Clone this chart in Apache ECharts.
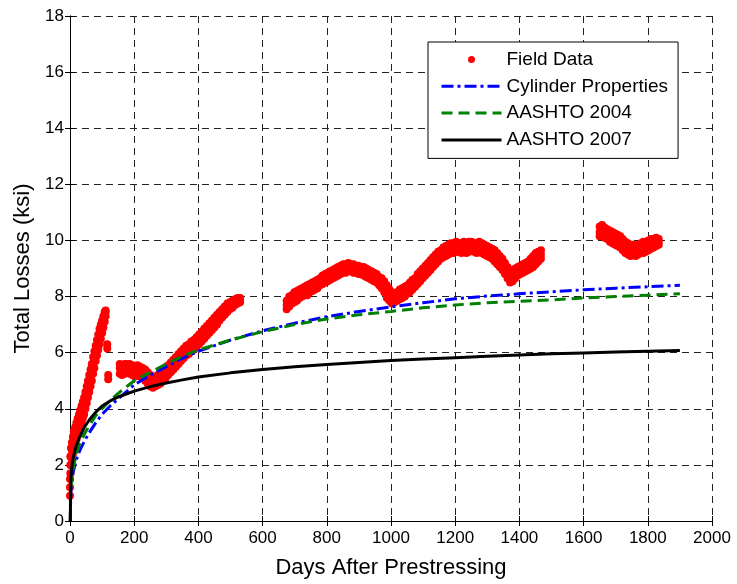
<!DOCTYPE html>
<html>
<head>
<meta charset="utf-8">
<script src="https://cdn.jsdelivr.net/npm/echarts@6/dist/echarts.min.js"></script>
<style>
  html, body { margin: 0; padding: 0; background: #fff; }
  #chart { width: 737px; height: 584px; }
</style>
</head>
<body>
<div id="chart"></div>
<script>
// Measured prestress losses. Each row: [days after prestressing, readings (ksi)...]
const fieldEarly = [
  [0,0.9,1.2,1.5],[1,1.7,2.0,2.3],[3,2.0,2.3,2.6],[6,2.2,2.5,2.8],[9,2.4,2.7,3.0],[12,2.6,2.9,3.2],
  [16,2.75,3.05,3.35],[20,2.9,3.2,3.5],[24,3.05,3.35,3.65],[28,3.2,3.5,3.8],[32,3.35,3.65,3.95],
  [36,3.5,3.8,4.1],[40,3.65,3.95,4.25],[44,3.8,4.1,4.4],[48,4.0,4.3,4.6],[52,4.2,4.5,4.8],
  [56,4.4,4.7,5.0],[60,4.6,4.9,5.2],[64,4.8,5.1,5.4],[68,5.0,5.3,5.6],[72,5.25,5.55,5.85],
  [76,5.45,5.75,6.05],[80,5.7,6.0,6.25],[84,5.9,6.2,6.45],[88,6.1,6.4,6.65],[92,6.3,6.6,6.85],
  [96,6.5,6.8,7.0],[100,6.7,6.95,7.15],[104,6.9,7.1,7.3],[108,7.1,7.3,7.45],[111,7.3,7.45,7.5],
  [116,6.15,6.3],[119,5.05,5.2]
];
const fieldFirstYear = [
  [155,5.25,5.45,5.6],[162,5.2,5.4,5.55],[170,5.25,5.45,5.6],[178,5.3,5.45,5.6],[186,5.25,5.45,5.6],
  [194,5.2,5.4,5.55],[202,5.15,5.35,5.5],[210,5.2,5.4,5.55],[218,5.15,5.35,5.5],[226,5.1,5.3,5.45],
  [234,5.0,5.2,5.4],[242,4.9,5.1,5.3],[250,4.8,5.0,5.2],[258,4.75,4.95,5.15],[266,4.8,5.0,5.15],
  [274,4.85,5.05,5.2],[282,4.9,5.1,5.3],[290,5.0,5.2,5.35],[298,5.1,5.3,5.45],[306,5.2,5.4,5.55],
  [314,5.3,5.5,5.65],[322,5.4,5.6,5.75],[330,5.5,5.7,5.85],[338,5.6,5.8,5.95],[346,5.7,5.9,6.05],
  [354,5.8,6.0,6.15],[362,5.9,6.05,6.25],[370,5.95,6.15,6.3],[378,6.05,6.2,6.4],[386,6.1,6.3,6.45],
  [394,6.2,6.4,6.55],[402,6.3,6.5,6.65],[410,6.4,6.6,6.75],[418,6.5,6.7,6.85],[426,6.6,6.8,6.95],
  [434,6.7,6.9,7.05],[442,6.8,7.0,7.15],[450,6.9,7.1,7.25],[458,7.0,7.2,7.35],[466,7.15,7.3,7.45],
  [474,7.25,7.4,7.55],[482,7.35,7.5,7.65],[490,7.45,7.6,7.75],[498,7.55,7.7,7.8],[506,7.6,7.75,7.85],
  [514,7.7,7.8,7.9],[522,7.75,7.85,7.95],[530,7.8,7.9,7.95]
];
const fieldMiddle = [
  [675,7.55,7.7,7.85],[683,7.65,7.8,8.0],[691,7.75,7.9,8.05],[699,7.8,7.95,8.15],[707,7.85,8.05,8.2],
  [715,7.95,8.1,8.25],[723,8.0,8.15,8.3],[731,8.05,8.2,8.35],[739,8.05,8.25,8.4],[747,8.15,8.3,8.45],
  [755,8.2,8.35,8.5],[763,8.25,8.4,8.55],[771,8.3,8.45,8.6],[779,8.4,8.55,8.65],[787,8.45,8.6,8.75],
  [795,8.5,8.65,8.8],[803,8.55,8.7,8.85],[811,8.6,8.75,8.9],[819,8.65,8.8,8.95],[827,8.7,8.85,9.0],
  [835,8.75,8.9,9.05],[843,8.8,8.95,9.1],[851,8.85,9.0,9.15],[859,8.85,9.0,9.15],[867,8.9,9.05,9.2],
  [875,8.9,9.05,9.15],[883,8.85,9.0,9.15],[891,8.85,8.95,9.1],[899,8.8,8.95,9.1],[907,8.8,8.9,9.05],
  [915,8.75,8.9,9.05],[923,8.7,8.85,9.0],[931,8.65,8.8,8.95],[939,8.6,8.75,8.9],[947,8.55,8.7,8.85],
  [955,8.5,8.65,8.8],[963,8.4,8.55,8.7],[971,8.3,8.45,8.65],[979,8.15,8.35,8.55],[987,7.95,8.15,8.4],
  [995,7.85,8.05,8.25],[1003,7.75,7.95,8.15],[1011,7.8,7.95,8.1],[1019,7.85,8.0,8.15],[1027,7.9,8.05,8.25],
  [1035,7.95,8.1,8.3],[1043,8.0,8.15,8.35],[1051,8.1,8.25,8.4],[1059,8.15,8.3,8.5],[1067,8.25,8.4,8.6],
  [1075,8.35,8.5,8.65],[1083,8.45,8.6,8.8],[1091,8.55,8.7,8.9],[1099,8.65,8.8,9.0],[1107,8.75,8.9,9.1],
  [1115,8.85,9.0,9.2],[1123,8.95,9.1,9.3],[1131,9.05,9.2,9.4],[1139,9.15,9.3,9.5],[1147,9.25,9.4,9.6],
  [1155,9.35,9.5,9.65],[1163,9.4,9.55,9.75],[1171,9.45,9.6,9.8],[1179,9.5,9.65,9.85],[1187,9.55,9.7,9.9],
  [1195,9.55,9.7,9.9],[1203,9.6,9.75,9.95],[1211,9.6,9.75,9.9],[1219,9.55,9.7,9.9],[1227,9.6,9.75,9.95],
  [1235,9.55,9.7,9.9],[1243,9.6,9.75,9.95],[1251,9.65,9.8,9.95],[1259,9.6,9.75,9.9],[1267,9.55,9.7,9.9],
  [1275,9.6,9.75,9.95],[1283,9.55,9.7,9.9],[1291,9.5,9.65,9.85],[1299,9.45,9.6,9.8],[1307,9.4,9.55,9.75],
  [1315,9.35,9.5,9.7],[1323,9.25,9.45,9.65],[1331,9.15,9.35,9.55],[1339,9.05,9.25,9.45],[1347,8.95,9.15,9.35],
  [1355,8.8,9.0,9.2],[1363,8.65,8.85,9.05],[1371,8.5,8.7,8.95],[1379,8.55,8.7,8.9],[1387,8.65,8.8,9.0],
  [1395,8.75,8.9,9.05],[1403,8.8,8.95,9.1],[1411,8.85,9.0,9.15],[1419,8.9,9.05,9.2],[1427,8.95,9.1,9.25],
  [1435,9.0,9.15,9.35],[1443,9.05,9.25,9.45],[1451,9.15,9.35,9.55],[1459,9.25,9.4,9.6],[1467,9.35,9.5,9.65]
];
const fieldLate = [
  [1650,10.15,10.3,10.5],[1658,10.25,10.4,10.55],[1666,10.1,10.25,10.45],[1674,10.05,10.2,10.4],
  [1682,9.95,10.15,10.35],[1690,9.9,10.1,10.3],[1698,9.85,10.05,10.25],[1706,9.8,10.0,10.2],
  [1714,9.75,9.95,10.15],[1722,9.65,9.85,10.05],[1730,9.55,9.75,9.95],[1738,9.5,9.7,9.9],
  [1746,9.45,9.65,9.85],[1754,9.5,9.65,9.85],[1762,9.45,9.6,9.8],[1770,9.5,9.65,9.85],
  [1778,9.55,9.7,9.9],[1786,9.55,9.75,9.95],[1794,9.6,9.8,9.95],[1802,9.65,9.85,10.0],
  [1810,9.7,9.9,10.05],[1818,9.75,9.9,10.05],[1826,9.8,9.95,10.1],[1834,9.85,9.95,10.05]
];

// Predicted losses: [days, total loss (ksi)]
const cylinderProps = [
  [1,0],[2,0.8],[3,1.1],[5,1.35],[10,1.75],[20,2.2],[30,2.5],[45,2.85],[60,3.15],[80,3.5],[100,3.8],
  [125,4.1],[150,4.35],[200,4.85],[250,5.2],[300,5.5],[350,5.8],[400,6.05],[500,6.45],[600,6.78],
  [700,7.05],[800,7.28],[900,7.47],[1000,7.63],[1100,7.78],[1200,7.92],[1300,8.02],[1400,8.1],
  [1500,8.17],[1600,8.24],[1700,8.3],[1800,8.35],[1900,8.4]
];
const aashto2004 = [
  [1,0],[2,0.9],[3,1.2],[5,1.5],[10,1.9],[20,2.4],[30,2.75],[45,3.1],[60,3.4],[80,3.75],[100,4.0],
  [125,4.3],[150,4.55],[200,5.0],[250,5.3],[300,5.6],[350,5.87],[400,6.1],[500,6.45],[600,6.75],
  [700,7.0],[800,7.2],[900,7.35],[1000,7.47],[1100,7.6],[1200,7.7],[1300,7.78],[1400,7.83],
  [1500,7.88],[1600,7.95],[1700,8.0],[1800,8.05],[1900,8.1]
];
const aashto2007 = [
  [1,0],[2,1.3],[3,1.6],[5,1.85],[7,2.05],[10,2.25],[15,2.5],[20,2.7],[30,3.0],[45,3.35],[60,3.6],
  [80,3.88],[100,4.1],[125,4.28],[150,4.42],[200,4.63],[250,4.79],[300,4.92],[350,5.03],[400,5.13],
  [500,5.28],[600,5.4],[700,5.5],[800,5.58],[900,5.65],[1000,5.72],[1100,5.77],[1200,5.82],
  [1300,5.87],[1400,5.92],[1500,5.96],[1600,5.99],[1700,6.02],[1800,6.05],[1900,6.08]
];

const seriesNames = ['Field Data', 'Cylinder Properties', 'AASHTO 2004', 'AASHTO 2007'];
const FONT = '"Liberation Sans", Arial, Helvetica, sans-serif';

// Expand [day, r1, r2, ...] rows into individual [day, reading] points
function toPoints(rows) {
  const pts = [];
  rows.forEach(function (row) {
    for (let i = 1; i < row.length; i++) pts.push([row[0], row[i]]);
  });
  return pts;
}
const fieldPoints = [].concat(
  toPoints(fieldEarly), toPoints(fieldFirstYear), toPoints(fieldMiddle), toPoints(fieldLate)
);

const chart = echarts.init(document.getElementById('chart'), null, { renderer: 'canvas' });

const gridLine = { show: true, lineStyle: { color: '#222', width: 1, type: [7, 5] } };
const frameAxis = { lineStyle: { color: '#000', width: 1 } };
const innerTick = { show: true, inside: true, length: 5, lineStyle: { color: '#000' } };
const plain = function (v) { return String(v); };

function lineSeries(name, color, dash, data, z) {
  return {
    name: name, type: 'line', symbol: 'none', showSymbol: false,
    itemStyle: { color: color, opacity: 0 },
    lineStyle: { color: color, width: 3, type: dash },
    emphasis: { disabled: true },
    data: data, z: z
  };
}

chart.setOption({
  backgroundColor: '#fff',
  animation: false,
  textStyle: { fontFamily: FONT },
  grid: { left: 70, top: 16, width: 642, height: 505, containLabel: false },
  xAxis: [
    {
      type: 'value', min: 0, max: 2000, interval: 200,
      name: 'Days After Prestressing', nameLocation: 'middle', nameGap: 36,
      nameTextStyle: { fontSize: 22, color: '#000', fontFamily: FONT },
      axisLine: frameAxis, axisTick: innerTick,
      axisLabel: { fontSize: 17, color: '#000', margin: 9, fontFamily: FONT, formatter: plain },
      splitLine: gridLine
    },
    {
      type: 'value', min: 0, max: 2000, interval: 200, position: 'top',
      axisLine: frameAxis, axisTick: innerTick,
      axisLabel: { show: false }, splitLine: { show: false }
    }
  ],
  yAxis: [
    {
      type: 'value', min: 0, max: 18, interval: 2,
      name: 'Total Losses (ksi)', nameLocation: 'middle', nameGap: 33,
      nameTextStyle: { fontSize: 22, color: '#000', fontFamily: FONT },
      axisLine: frameAxis, axisTick: innerTick,
      axisLabel: { fontSize: 17, color: '#000', margin: 6, fontFamily: FONT, formatter: plain },
      splitLine: gridLine
    },
    {
      type: 'value', min: 0, max: 18, interval: 2, position: 'right',
      axisLine: frameAxis, axisTick: innerTick,
      axisLabel: { show: false }, splitLine: { show: false }
    }
  ],
  legend: {
    orient: 'vertical',
    left: 428, top: 42,
    backgroundColor: '#fff',
    borderColor: '#000', borderWidth: 1, borderRadius: 0,
    padding: [7, 10, 8, 12],
    itemWidth: 60, itemHeight: 14, itemGap: 5.8,
    selectedMode: false,
    textStyle: { fontSize: 19, color: '#000', fontFamily: FONT, lineHeight: 21 },
    lineStyle: { width: 3 },
    data: [
      { name: seriesNames[0], icon: 'path://M0,0M60,14M26.5,7a3.5,3.5 0 1,0 7,0a3.5,3.5 0 1,0 -7,0z' },
      { name: seriesNames[1] },
      { name: seriesNames[2] },
      { name: seriesNames[3] }
    ]
  },
  series: [
    {
      name: seriesNames[0], type: 'scatter', symbol: 'circle', symbolSize: 8,
      itemStyle: { color: '#ff0000', opacity: 1 },
      emphasis: { disabled: true },
      data: fieldPoints, z: 2
    },
    lineSeries(seriesNames[1], '#0000ff', [12, 4, 3, 4], cylinderProps, 3),
    lineSeries(seriesNames[2], '#008000', [11, 6], aashto2004, 4),
    lineSeries(seriesNames[3], '#000000', 'solid', aashto2007, 5)
  ]
});
</script>
</body>
</html>
